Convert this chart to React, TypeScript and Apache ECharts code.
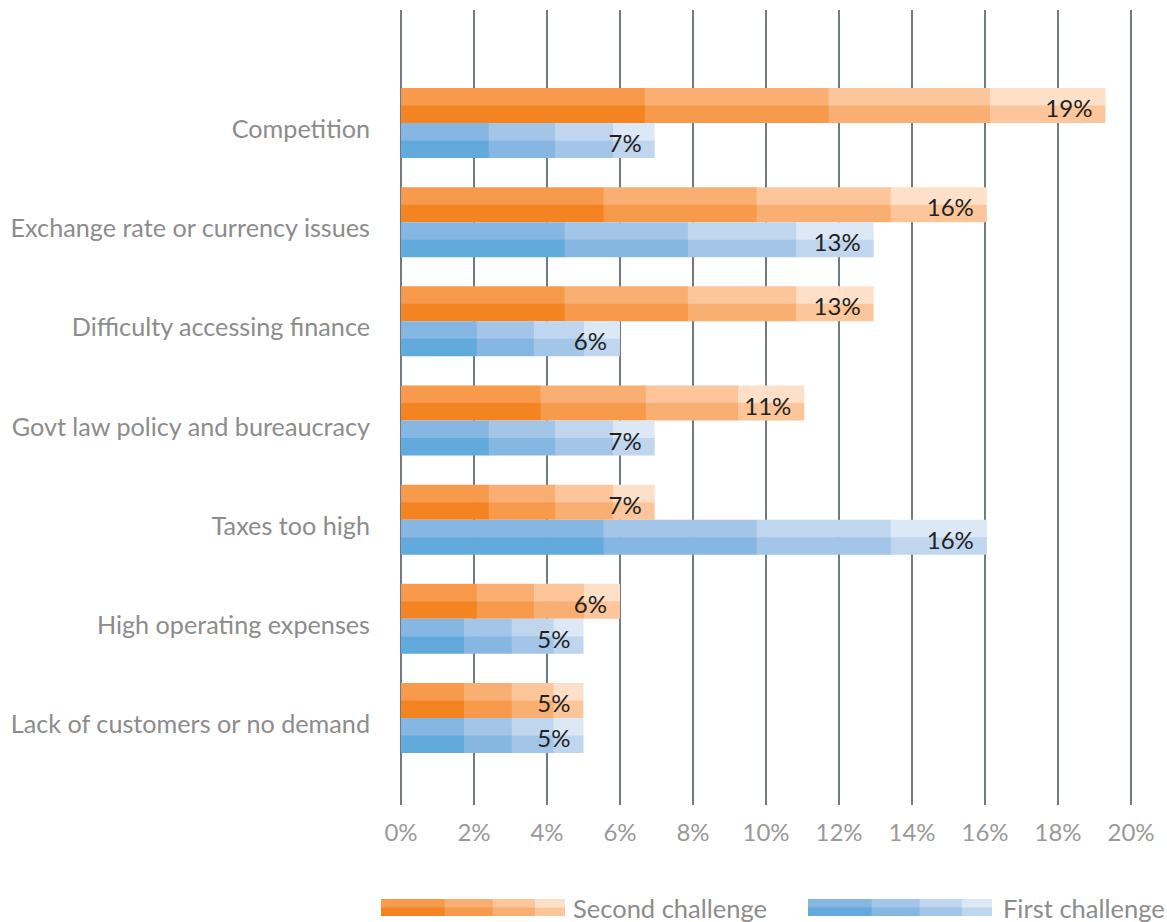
import React, { useEffect, useRef } from "react";
import * as echarts from "echarts";

const categories = [
  "Competition",
  "Exchange rate or currency issues",
  "Difficulty accessing finance",
  "Govt law policy and bureaucracy",
  "Taxes too high",
  "High operating expenses",
  "Lack of customers or no demand",
];
const secondChallenge = [19.3, 16.05, 12.95, 11.05, 6.95, 6.0, 5.0];
const firstChallenge = [6.95, 12.95, 6.0, 6.95, 16.05, 5.0, 5.0];
const seriesNames = ["Second challenge", "First challenge"];

// decorative segment boundaries (fractions of bar length)
const SEG = [0, 0.346, 0.607, 0.836, 1];
const ORANGE = ["#F48322", "#F79A4B", "#FAAF72", "#FCC69A", "#FEE0C8"];
const BLUE = ["#62AADC", "#86B7E2", "#A3C5E8", "#C0D6EF", "#DCE8F5"];

const FONT = "Lato";
const BAR_H = 35;

function makeRender(palette: string[], side: "top" | "bottom") {
  return (params: any, api: any) => {
    const v = api.value(0);
    const ci = api.value(1);
    const end = api.coord([v, ci]);
    const start = api.coord([0, ci]);
    const cy = end[1];
    const y0 = side === "top" ? cy - BAR_H : cy;
    const len = end[0] - start[0];
    const children: any[] = [];
    for (let s = 0; s < 4; s++) {
      const xa = start[0] + len * SEG[s];
      const xb = start[0] + len * SEG[s + 1];
      const w = xb - xa + (s < 3 ? 0.6 : 0);
      children.push({
        type: "rect",
        shape: { x: xa, y: y0, width: w, height: BAR_H / 2 + 0.5 },
        style: { fill: palette[s + 1] },
      });
      children.push({
        type: "rect",
        shape: { x: xa, y: y0 + BAR_H / 2, width: w, height: BAR_H / 2 },
        style: { fill: palette[s] },
      });
    }
    children.push({
      type: "text",
      style: {
        text: Math.round(v) + "%",
        x: end[0] - 13,
        y: y0 + BAR_H / 2 + 2,
        align: "right",
        verticalAlign: "middle",
        fontSize: 24,
        fontFamily: FONT,
        fill: "#222222",
      },
    });
    return { type: "group", children };
  };
}

function legendItem(x: number, palette: string[], label: string, textX: number) {
  const W = 184;
  const y = 899;
  const H = 17;
  const children: any[] = [];
  for (let s = 0; s < 4; s++) {
    const xa = x + W * SEG[s];
    const xb = x + W * SEG[s + 1];
    const w = xb - xa + (s < 3 ? 0.6 : 0);
    children.push({ type: "rect", shape: { x: xa, y, width: w, height: H / 2 + 0.5 }, style: { fill: palette[s + 1] } });
    children.push({ type: "rect", shape: { x: xa, y: y + H / 2, width: w, height: H / 2 }, style: { fill: palette[s] } });
  }
  children.push({
    type: "text",
    style: {
      text: label,
      x: textX,
      y: y + H / 2,
      align: "left",
      verticalAlign: "middle",
      fontSize: 25.5,
      fontFamily: FONT,
      fill: "#8c8c8c",
    },
  });
  return children;
}

export default function App() {
  const ref = useRef<HTMLDivElement>(null);
  useEffect(() => {
    if (!ref.current) return;
    const chart = echarts.init(ref.current, undefined, { renderer: "svg" });
    chart.setOption({
      animation: false,
      backgroundColor: "#ffffff",
      grid: [
        { left: 401, right: 36, top: 10, bottom: 117 },
        { left: 401, right: 36, top: 73.4, bottom: 154.4 },
      ],
      xAxis: [
        {
          gridIndex: 0,
          type: "value",
          min: 0,
          max: 20,
          interval: 2,
          axisLine: { show: false },
          axisTick: { show: false },
          splitLine: { show: true, lineStyle: { color: "#3f4e59", width: 1.5 } },
          axisLabel: {
            formatter: "{value}%",
            color: "#999999",
            fontSize: 24,
            fontFamily: FONT,
            margin: 14,
          },
        },
        {
          gridIndex: 1,
          type: "value",
          min: 0,
          max: 20,
          show: false,
        },
      ],
      yAxis: [
        { gridIndex: 0, type: "value", min: 0, max: 1, show: false },
        {
          gridIndex: 1,
          type: "category",
          data: categories,
          inverse: true,
          axisLine: { show: false },
          axisTick: { show: false },
          splitLine: { show: false },
          axisLabel: {
            color: "#8c8c8c",
            fontSize: 25.2,
            fontFamily: FONT,
            margin: 31,
            verticalAlign: "top",
            lineHeight: 10,
          },
        },
      ],
      series: [
        {
          type: "custom",
          name: seriesNames[0],
          xAxisIndex: 1,
          yAxisIndex: 1,
          renderItem: makeRender(ORANGE, "top"),
          data: secondChallenge.map((v, i) => [v, i]),
          z: 5,
        },
        {
          type: "custom",
          name: seriesNames[1],
          xAxisIndex: 1,
          yAxisIndex: 1,
          renderItem: makeRender(BLUE, "bottom"),
          data: firstChallenge.map((v, i) => [v, i]),
          z: 5,
        },
      ],
      graphic: [
        ...legendItem(381, ORANGE, seriesNames[0], 573),
        ...legendItem(808, BLUE, seriesNames[1], 1003),
      ],
    });
    return () => chart.dispose();
  }, []);
  return <div ref={ref} style={{ width: 1167, height: 922, position: "absolute", left: 0, top: 0 }} />;
}
